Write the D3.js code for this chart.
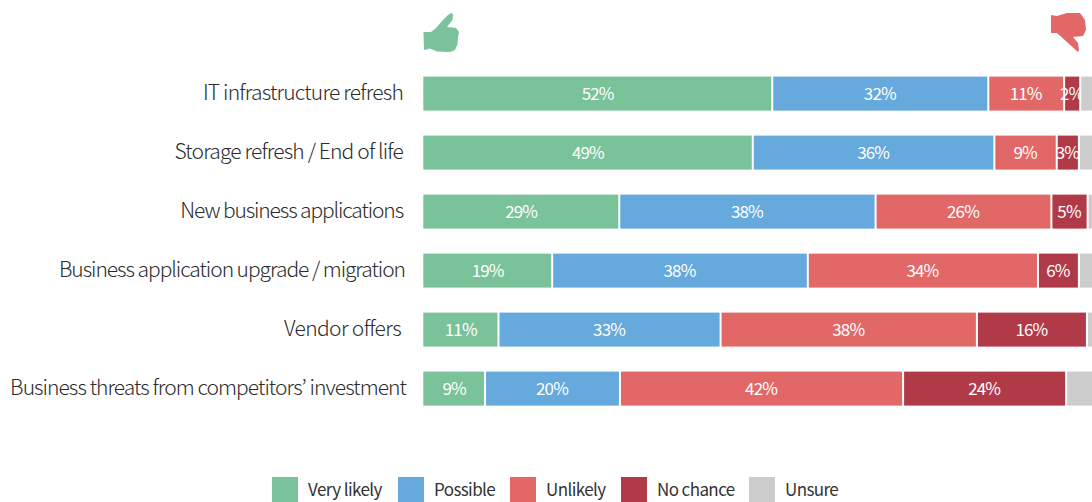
<!DOCTYPE html>
<html><head><meta charset="utf-8">
<script src="https://cdnjs.cloudflare.com/ajax/libs/d3/7.8.5/d3.min.js"></script>
<style>html,body{margin:0;background:#fff;overflow:hidden}svg{display:block}text{font-family:"Noto Sans CJK KR","Noto Sans",sans-serif}</style>
</head><body><div id="c"></div><script>
const categories=["IT infrastructure refresh","Storage refresh / End of life","New business applications","Business application upgrade / migration","Vendor offers","Business threats from competitors’ investment"];
const seriesNames=["Very likely","Possible","Unlikely","No chance","Unsure"];
const seriesColors=["#7ac29a","#66a9dc","#e26868","#b13a49","#cccccc"];
const veryLikely=[51.9,49,29.1,19.1,11.1,9.1];
const possible=[32.2,36,38.2,38.1,33.1,20.1];
const unlikely=[11.3,9.3,26.2,34.3,38.2,42.2];
const noChance=[2.4,3.3,5.4,6.1,16.4,24.3];
const unsure=[2.2,2.4,1.1,2.4,1.2,4.3];
const allSeries=[veryLikely,possible,unlikely,noChance,unsure];
const legendX=[272,398,510,621,749];
const thumbUp="M423.5 32L431 32L436 28L443 20L448 15L451.7 12.7L453 15L452.5 20L447 27L456 28L459 32L458 37L457.5 44L455 50L450 52L437 51.5L430 48.5L424 50Z";
const thumbDown="M1051 15L1051 33L1057 33L1067 42L1078 52L1079 50L1078 43L1073 37L1083 36L1086 30L1085 20L1080 13L1067 13L1057 16Z";

const W=1092,H=502;
const svg=d3.select("#c").append("svg").attr("width",W).attr("height",H);
const x=d3.scaleLinear().domain([0,100]).range([424,1095]);
const y=d3.scaleBand().domain(categories).range([76.6,76.6+59*5+34]).paddingInner(25/59).paddingOuter(0);
const rows=categories.map((c,i)=>{const o={c};seriesNames.forEach((s,k)=>o[s]=allSeries[k][i]);return o;});
const stacked=d3.stack().keys(seriesNames)(rows);
const g=svg.selectAll("g.s").data(stacked).join("g").attr("class","s");
g.each(function(s,k){
  const sel=d3.select(this);
  sel.selectAll("rect").data(s).join("rect")
    .attr("x",d=>x(d[0])+(k?1:-0.7)).attr("width",d=>x(d[1])-x(d[0])-(k?2:0.3))
    .attr("y",d=>y(d.data.c)).attr("height",y.bandwidth()).attr("fill",seriesColors[k]);
  if(k<4) sel.selectAll("text").data(s).join("text")
    .attr("x",d=>(x(d[0])+x(d[1]))/2-0.5).attr("y",d=>y(d.data.c)+y.bandwidth()/2+6.6)
    .attr("text-anchor","middle").attr("fill","#fff").attr("font-size",17).attr("font-weight",400)
    .attr("letter-spacing",-0.9)
    .text(d=>Math.round(d[1]-d[0])+"%");
});
const catX=[403,403,403,405,401,406];
const catSpacing=[-0.8,-0.85,-1.13,-1.05,-0.65,-0.95];
svg.selectAll("text.cat").data(categories).join("text").attr("class","cat")
  .attr("x",(d,i)=>catX[i]).attr("y",d=>y(d)+y.bandwidth()/2+6.5)
  .attr("text-anchor","end").attr("fill","#2b2b2b").attr("font-size",21).attr("font-weight",300).attr("letter-spacing",(d,i)=>catSpacing[i])
  .text(d=>d);
svg.append("path").attr("d",thumbUp).attr("fill",seriesColors[0]);
svg.append("path").attr("d",thumbDown).attr("fill",seriesColors[2]);
const lg=svg.selectAll("g.l").data(seriesNames).join("g").attr("class","l").attr("transform",(d,i)=>`translate(${legendX[i]},477)`);
lg.append("rect").attr("width",26).attr("height",25).attr("fill",(d,i)=>seriesColors[i]);
lg.append("text").attr("x",36).attr("y",19).attr("font-size",17).attr("fill","#333").attr("letter-spacing",-0.6).text(d=>d);
</script></body></html>
